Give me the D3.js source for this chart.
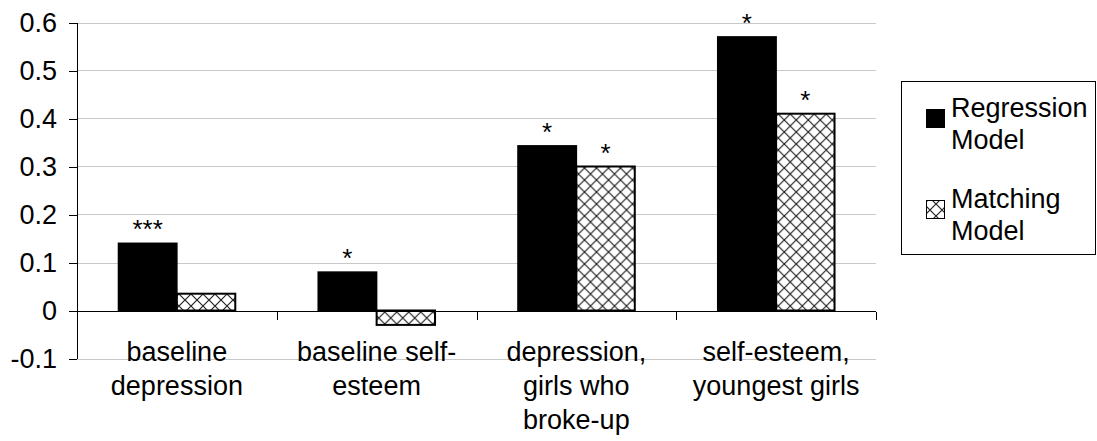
<!DOCTYPE html>
<html>
<head>
  <style>
    body { margin: 0; background: #fff; }
    text { font-family: "Liberation Sans", Arial, sans-serif; fill: #000; }
    .grid line { stroke: #c8c8c8; stroke-width: 1; }
    .axis path, .axis line { stroke: #000; shape-rendering: crispEdges; }
  </style>
  <script src="https://d3js.org/d3.v7.min.js"></script>
</head>
<body>
  <div id="chart"></div>
  <script>
    const categories = [
      ["baseline", "depression"],
      ["baseline self-", "esteem"],
      ["depression,", "girls who", "broke-up"],
      ["self-esteem,", "youngest girls"]
    ];
    const seriesNames = ["Regression Model", "Matching Model"];
    const regression = [0.14, 0.08, 0.343, 0.57];
    const matching = [0.035, -0.03, 0.3, 0.41];
    const regressionStars = ["***", "*", "*", "*"];
    const matchingStars = ["", "", "*", "*"];
    const yTicks = [-0.1, 0, 0.1, 0.2, 0.3, 0.4, 0.5, 0.6];

    const width = 1097, height = 441;
    const plotLeft = 77, plotRight = 876, plotTop = 22.5, plotBottom = 358.5;
    const fontSize = 27;

    const svg = d3.select("#chart").append("svg")
      .attr("width", width).attr("height", height);

    const defs = svg.append("defs");
    const pat = defs.append("pattern")
      .attr("id", "hatch")
      .attr("patternUnits", "userSpaceOnUse")
      .attr("width", 12).attr("height", 12);
    pat.append("rect").attr("width", 12).attr("height", 12).attr("fill", "#fff");
    pat.append("path")
      .attr("d", "M0,0 L12,12 M12,0 L0,12")
      .attr("stroke", "#222").attr("stroke-width", 1.2);

    const y = d3.scaleLinear().domain([-0.1, 0.6]).range([plotBottom, plotTop]);
    const idx = categories.map((d, i) => i);
    const x0 = d3.scaleBand().domain(idx).range([plotLeft, plotRight]).paddingInner(0).paddingOuter(0);
    const x1 = d3.scaleBand().domain([0, 1]).range([0, x0.bandwidth()]).paddingInner(0).paddingOuter(0.71);

    // gridlines
    svg.append("g").attr("class", "grid")
      .selectAll("line").data(yTicks.filter(d => d !== 0)).join("line")
      .attr("x1", plotLeft).attr("x2", plotRight)
      .attr("y1", d => Math.round(y(d)) + 0.5).attr("y2", d => Math.round(y(d)) + 0.5);

    // bars
    const groups = svg.append("g").selectAll("g").data(idx).join("g")
      .attr("transform", i => `translate(${x0(i)},0)`);

    groups.append("rect")
      .attr("x", i => x1(0))
      .attr("width", x1.bandwidth())
      .attr("y", i => y(Math.max(0, regression[i])))
      .attr("height", i => Math.abs(y(regression[i]) - y(0)))
      .attr("fill", "#000").attr("stroke", "#000").attr("stroke-width", 1.5);

    groups.append("rect")
      .attr("x", i => x1(1))
      .attr("width", x1.bandwidth())
      .attr("y", i => y(Math.max(0, matching[i])))
      .attr("height", i => Math.abs(y(matching[i]) - y(0)))
      .attr("fill", "url(#hatch)").attr("stroke", "#000").attr("stroke-width", 2);

    groups.append("text")
      .attr("x", i => x1(0) + x1.bandwidth() / 2)
      .attr("y", i => y(regression[i]) - 5)
      .attr("text-anchor", "middle").attr("font-size", 26)
      .text(i => regressionStars[i]);

    groups.append("text")
      .attr("x", i => x1(1) + x1.bandwidth() / 2)
      .attr("y", i => y(matching[i]) - 5)
      .attr("text-anchor", "middle").attr("font-size", 26)
      .text(i => matchingStars[i]);

    // y axis
    const yAxis = svg.append("g").attr("class", "axis")
      .attr("transform", `translate(${plotLeft},0)`)
      .call(d3.axisLeft(y).tickValues(yTicks).tickSize(8).tickPadding(12)
        .tickFormat(d => String(+d.toFixed(1))));
    yAxis.select(".domain").attr("d", `M0,${plotTop}V${plotBottom}`);
    yAxis.selectAll("text").attr("font-size", fontSize).attr("dy", "0.32em")
      .style("font-family", "Liberation Sans, Arial, sans-serif").attr("fill", "#000");

    // x axis at zero
    const xAxis = svg.append("g").attr("class", "axis")
      .attr("transform", `translate(0,${Math.round(y(0)) + 0.5})`);
    xAxis.append("line").attr("x1", plotLeft).attr("x2", plotRight).attr("stroke", "#000");
    const bounds = idx.map(i => x0(i)).concat([plotRight]);
    xAxis.selectAll(".tk").data(bounds).join("line").attr("class", "tk")
      .attr("x1", d => Math.round(d) + 0.5).attr("x2", d => Math.round(d) + 0.5)
      .attr("y1", 0).attr("y2", 8);

    // category labels
    const lab = svg.append("g").selectAll("text").data(idx).join("text")
      .attr("text-anchor", "middle").attr("font-size", fontSize);
    lab.selectAll("tspan").data(i => categories[i].map(t => ({ t, i }))).join("tspan")
      .attr("x", d => x0(d.i) + x0.bandwidth() / 2)
      .attr("y", (d, k) => 361 + k * 34)
      .text(d => d.t);

    // legend
    const lg = svg.append("g");
    lg.append("rect").attr("x", 901.5).attr("y", 81.5).attr("width", 194).attr("height", 173)
      .attr("fill", "#fff").attr("stroke", "#000").attr("stroke-width", 1);
    const legendFills = ["#000", "url(#hatch)"];
    seriesNames.forEach((name, k) => {
      const words = name.split(" ");
      const base = 117 + k * 91;
      lg.append("rect").attr("x", 926.5).attr("y", base - 7.5).attr("width", 18).attr("height", 18)
        .attr("fill", legendFills[k]).attr("stroke", "#000").attr("stroke-width", 1);
      const t = lg.append("text").attr("font-size", fontSize);
      words.forEach((w, j) => {
        t.append("tspan").attr("x", 951).attr("y", base + j * 32).text(w);
      });
    });
  </script>
</body>
</html>
